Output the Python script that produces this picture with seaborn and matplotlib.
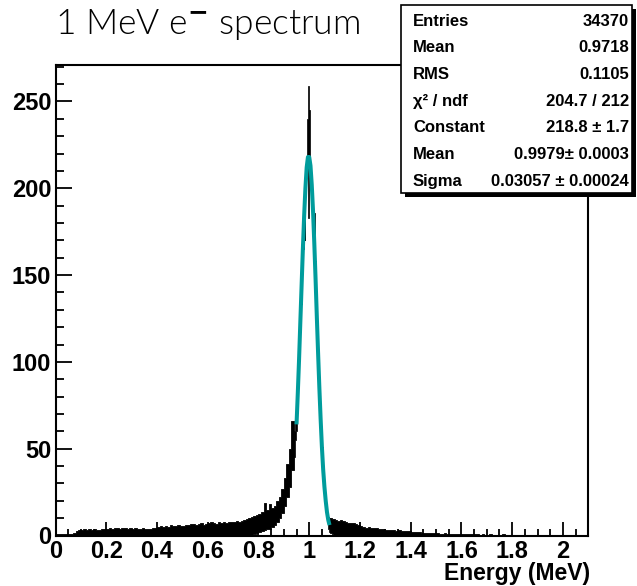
import numpy as np
import seaborn as sns
import matplotlib
matplotlib.use("Agg")
import matplotlib.pyplot as plt
from matplotlib.patches import Rectangle
from matplotlib.ticker import MultipleLocator, FuncFormatter

##################
# Histogram data #
##################

# envelope of the (very fine binned) spectrum, read off in 0.01 MeV steps
# (0.94 - 1.08 is covered by the finer core arrays below)
bin_width = 0.01
hist_hi = [
    0.6, 0.6, 0.6, 0.8, 0.8, 1.0, 1.0, 1.5, 2.5, 3.0,
    3.0, 3.5, 3.0, 3.5, 3.2, 3.8, 3.4, 3.2, 3.6, 3.8,
    4.0, 4.2, 3.8, 4.2, 4.4, 4.0, 4.2, 4.4, 4.0, 4.2,
    4.0, 4.2, 4.0, 3.8, 4.4, 4.0, 3.8, 4.0, 4.2, 4.4,
    5.0, 5.4, 4.8, 5.6, 5.0, 5.8, 5.2, 5.6, 6.0, 5.4,
    5.6, 6.2, 5.8, 6.4, 6.8, 6.0, 6.6, 7.0, 6.2, 6.8,
    7.0, 8.0, 7.0, 6.8, 7.6, 7.0, 7.8, 7.4, 7.6, 8.0,
    7.8, 8.2, 8.0, 8.6, 9.0, 9.6, 10.0, 10.6, 11.0, 12.0,
    12.5, 13.5, 19.0, 14.5, 18.0, 16.0, 17.0, 20.0, 22.0, 27.0,
    33, 41, 50, 66, 0, 0, 0, 0, 0, 0,
    0, 0, 0, 0, 0, 0, 0, 0, 10.0, 9.5,
    9.0, 8.6, 8.8, 8.2, 7.6, 7.4, 7.0, 7.2, 6.6, 6.0,
    5.2, 4.8, 4.6, 4.8, 4.4, 4.2, 4.4, 4.0, 3.8, 4.0,
    3.4, 3.2, 3.0, 3.2, 2.8, 3.0, 2.6, 2.8, 2.6, 2.4,
    2.2, 2.0, 1.8, 2.0, 1.7, 1.6, 1.7, 1.4, 1.4, 1.2,
    1.2, 1.0, 1.0, 1.2, 0.8, 1.0, 0.8, 0.8, 1.0, 0.7,
    0.7, 0.7, 0.8, 0.6, 1.0, 0.6, 0.6, 0.5, 0.6, 0.5,
    0.5, 0.6, 0.5, 0.5, 0.4, 0.5, 0.6, 0.4, 0.5, 0.4,
    0.4, 0.5, 0.4, 0.4, 0.5, 0.4, 0.3, 0.4, 0.4, 0.3,
    0.4, 0.3, 0.4, 0.3, 0.5, 0.3, 0.3, 0.4, 0.3, 0.3,
    0.3, 0.3, 0.2, 0.3, 0.3, 0.2, 0.3, 0.2, 0.2, 0.2,
]
hist_lo = ([0.0] * 78 + [1.0, 1.5]
           + [2.0, 2.5, 3.0, 3.5, 4.0, 5.0, 6.0, 8.0, 10.0, 13.0]
           + [17, 22, 28, 38, 0, 0, 0, 0, 0, 0]
           + [0.0] * 8 + [1.5, 1.0]
           + [0.0] * 100)
# bin index ranges of the coarse arrays that are drawn
coarse_parts = [(0, 94), (108, 210)]

core_start = 0.94
core_width = 0.0025
core_hi = [60, 66, 70, 74, 72.5, 81.7, 91.5, 101.5, 112, 122.6,
           133.5, 144.3, 155, 180, 191, 184.3, 192.5, 200.2, 206.5, 211.6,
           215.3, 240, 259, 230, 245, 216.2, 213, 208.3, 202.3, 195.2,
           187.1, 178.2, 186, 158.3, 147.7, 137, 126.1, 115.3, 104.7, 94.5,
           84.8, 75.5, 66.7, 58.6, 51.2, 44.4, 38.2, 32.7, 27.8, 23.5,
           19.7, 16.4, 13.5, 11.1, 10.5, 10.0]
core_lo = [45, 50, 55, 60, 64.1, 72.5, 81.7, 91.5, 101.5, 112,
           122.6, 133.5, 144.3, 155, 165.3, 175, 184.3, 170, 200.2, 206.5,
           211.6, 215.3, 183, 216, 216.2, 213, 208.3, 202.3, 195.2, 187.1,
           178.2, 168.5, 158.3, 147.7, 137, 126.1, 115.3, 104.7, 94.5, 84.8,
           75.5, 66.7, 58.6, 51.2, 44.4, 38.2, 32.7, 27.8, 23.5, 19.7,
           16.4, 13.5, 11.1, 9.1, 4.0, 2.0]

# gaussian fit curve as drawn
fit_x = [0.950, 0.955, 0.960, 0.965, 0.970, 0.975, 0.980, 0.985, 0.990,
         0.995, 1.000, 1.005, 1.010, 1.015, 1.020, 1.025, 1.030, 1.035,
         1.040, 1.045, 1.050, 1.055, 1.060, 1.065, 1.070, 1.075, 1.080]
fit_y = [64, 82, 101.5, 123, 144, 165, 184, 200, 212,
         218, 218, 213, 202, 187, 168.5, 148, 126, 105,
         85, 67, 51, 38, 28, 20, 13.5, 9, 6]

# stats box
stat_names = ["Entries", "Mean", "RMS", "χ² / ndf", "Constant", "Mean", "Sigma"]
stat_values = ["34370", "0.9718", "0.1105", "204.7 / 212", "218.8 ± 1.7",
               "0.9979± 0.0003", "0.03057 ± 0.00024"]

#########
# Chart #
#########

sns.set_theme(style="ticks")
plt.rcParams['font.family'] = ['Liberation Sans', 'DejaVu Sans']
plt.rcParams['font.weight'] = 'bold'

W, H = 637, 586
fig = plt.figure(figsize=(W / 100, H / 100), dpi=100)
fig.patch.set_facecolor("white")
ax = fig.add_axes([55.5 / W, (H - 535.5) / H, (588.3 - 55.5) / W, (535.5 - 65) / H])
ax.set_facecolor("white")

for a, b in coarse_parts:
    part_edges = np.arange(a, b + 1) * bin_width
    hi = hist_hi[a:b] + [hist_hi[b - 1]]
    lo = hist_lo[a:b] + [hist_lo[b - 1]]
    ax.fill_between(part_edges, lo, hi, step="post", facecolor="black",
                    edgecolor="black", linewidth=0.6)
core_edges = core_start + np.arange(len(core_hi) + 1) * core_width
ax.fill_between(core_edges, core_lo + [core_lo[-1]], core_hi + [core_hi[-1]],
                step="post", facecolor="black", edgecolor="black", linewidth=0.5)

sns.lineplot(x=fit_x, y=fit_y, color="#009c9c", linewidth=2.9, ax=ax,
             solid_capstyle="butt")

ax.set_xlim(0, 2.1)
ax.set_ylim(0, 271)
ax.xaxis.set_major_locator(MultipleLocator(0.2))
ax.xaxis.set_minor_locator(MultipleLocator(0.05))
ax.yaxis.set_major_locator(MultipleLocator(50))
ax.yaxis.set_minor_locator(MultipleLocator(10))
ax.xaxis.set_major_formatter(FuncFormatter(lambda v, p: f"{v:g}"))
ax.yaxis.set_major_formatter(FuncFormatter(lambda v, p: f"{v:g}"))

ax.tick_params(axis="x", which="major", direction="in", length=10, width=1.3,
               labelsize=17, pad=3, color="black", labelcolor="black")
ax.tick_params(axis="x", which="minor", direction="in", length=5, width=1.3, color="black")
ax.tick_params(axis="y", which="major", direction="in", length=11.5, width=1.3,
               labelsize=17, pad=3, color="black", labelcolor="black")
ax.tick_params(axis="y", which="minor", direction="in", length=5.8, width=1.3, color="black")
for s in ax.spines.values():
    s.set_linewidth(1.5)
    s.set_color("black")
ax.set_xlabel("")
ax.set_ylabel("")

fig.text(590 / W, 1 - 580 / H, "Energy (MeV)", fontsize=16.5, fontweight="bold",
         ha="right", va="baseline", color="black")

fig.text(55 / W, 1 - 24 / H, r"1 MeV e$^{-}$ spectrum", family=['Lato', 'DejaVu Sans'],
         fontweight=300, fontsize=25.5, va="center", ha="left", color="black")

# stats box with shadow
fig.add_artist(Rectangle((405 / W, 1 - 197 / H), (636 - 405) / W, (197 - 9) / H,
                         transform=fig.transFigure, facecolor="black",
                         edgecolor="none", zorder=5))
fig.add_artist(Rectangle((401 / W, 1 - 193 / H), (632 - 401) / W, (193 - 5) / H,
                         transform=fig.transFigure, facecolor="white",
                         edgecolor="black", linewidth=1.2, zorder=6))
for i, (name, val) in enumerate(zip(stat_names, stat_values)):
    yy = 1 - (21 + i * 26.7) / H
    fig.text(413 / W, yy, name, fontsize=12, fontweight="bold", va="center",
             ha="left", zorder=7, color="black")
    fig.text(629 / W, yy, val, fontsize=12, fontweight="bold", va="center",
             ha="right", zorder=7, color="black")

fig.savefig("out.png", dpi=100)
